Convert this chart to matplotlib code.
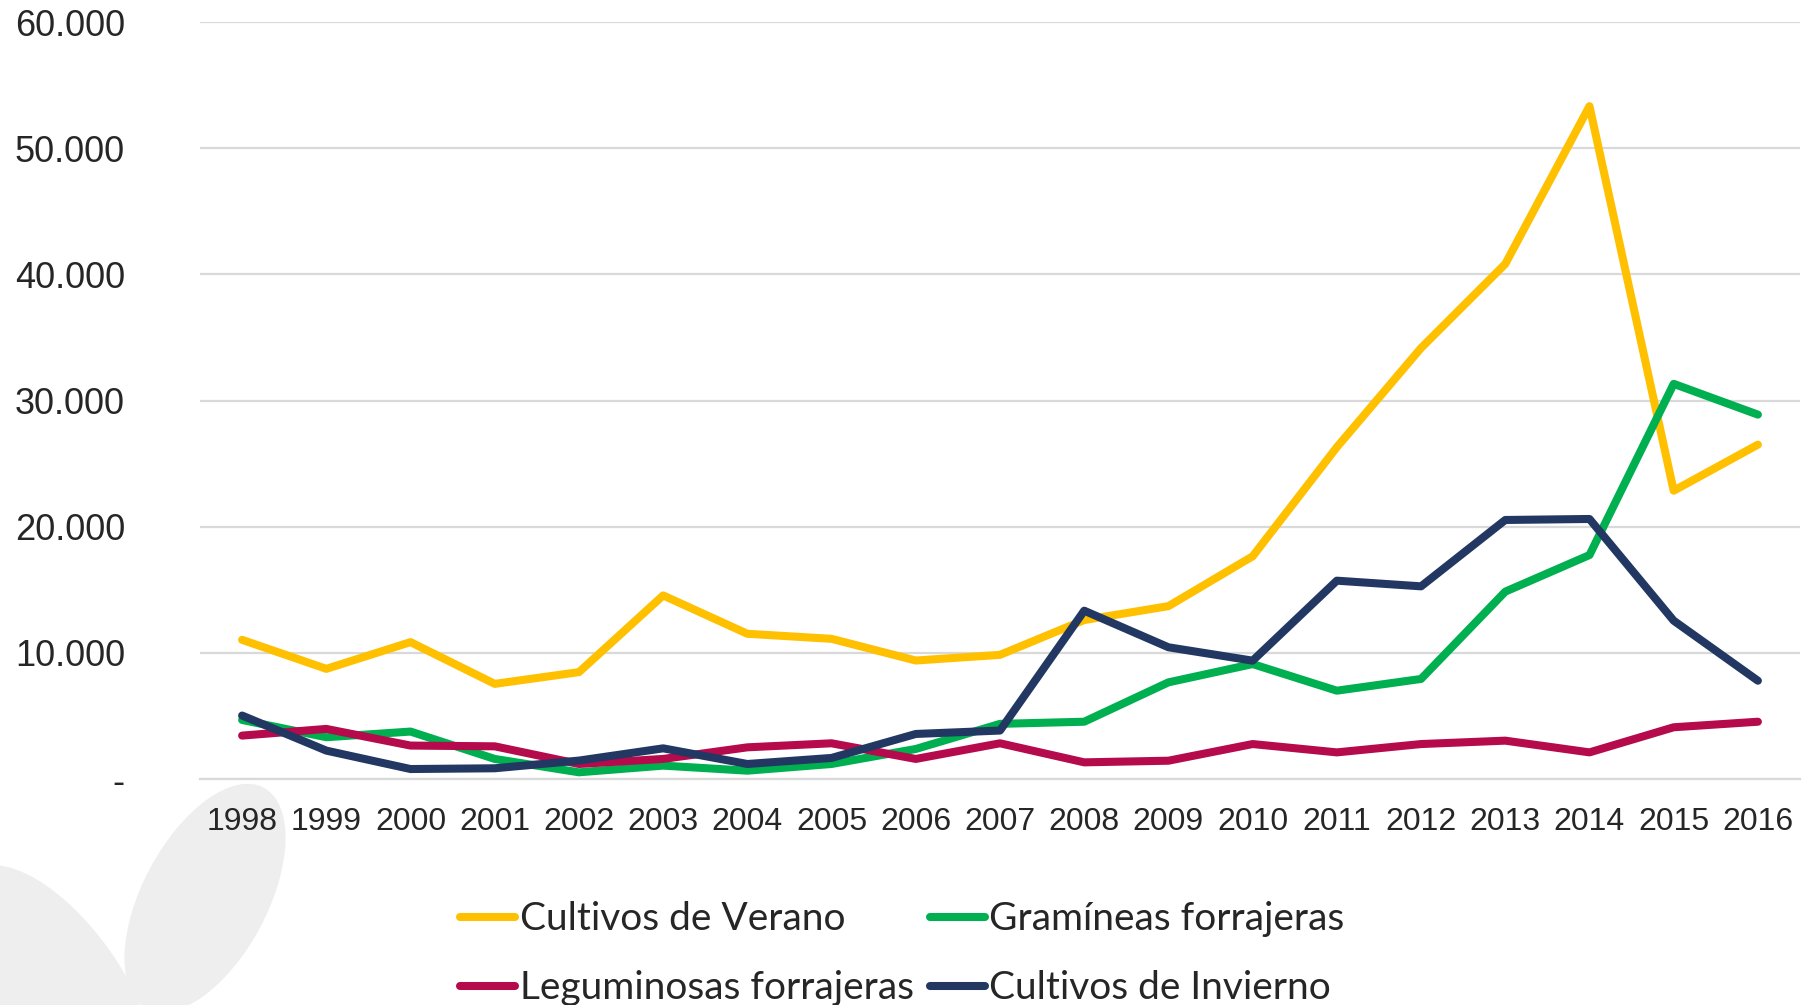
import numpy as np
import matplotlib.pyplot as plt
from matplotlib.patches import Ellipse
from matplotlib.ticker import FuncFormatter

years = [str(y) for y in range(1998, 2017)]

verano = [11030, 8730, 10850, 7540, 8470, 14550, 11510, 11110, 9390, 9840,
          12600, 13700, 17650, 26300, 34160, 40820, 53330, 22850, 26500]
gramineas = [4680, 3310, 3760, 1590, 530, 1060, 660, 1190, 2380, 4370,
             4540, 7660, 9110, 7000, 7930, 14850, 17750, 31320, 28880]
leguminosas = [3440, 3970, 2650, 2590, 1190, 1590, 2510, 2830, 1590, 2830,
               1320, 1450, 2770, 2110, 2770, 3040, 2110, 4100, 4540]
invierno = [5030, 2250, 790, 850, 1460, 2430, 1190, 1670, 3570, 3840,
            13340, 10440, 9380, 15720, 15270, 20530, 20610, 12550, 7790]

names = ['Cultivos de Verano', 'Gramíneas forrajeras',
         'Leguminosas forrajeras', 'Cultivos de Invierno']
colors = ['#FFC000', '#00B050', '#B50A4C', '#223863']


def fmt(v, pos):
    if v == 0:
        return '-'
    return '{:,.0f}'.format(v).replace(',', '.')


fig = plt.figure(figsize=(18.12, 10.05), dpi=100)

# faint leaf watermark, bottom left (pixel positions -> inches)
for cx, cy, w, h, ang in [(205, 898, 250, 125, 62), (55, 990, 290, 135, -55)]:
    fig.patches.append(Ellipse((cx / 100, (1005 - cy) / 100), w / 100, h / 100,
                               angle=ang, transform=fig.dpi_scale_trans,
                               facecolor='#eeeeee', edgecolor='none', zorder=-1))

ax = fig.add_axes([200 / 1812, 1 - 779 / 1005, 1600 / 1812, 757 / 1005])
ax.patch.set_alpha(0)

x = np.arange(len(years))
lines = []
for vals, name, c in zip([verano, gramineas, leguminosas, invierno], names, colors):
    ln, = ax.plot(x, vals, color=c, lw=5.8, label=name, solid_capstyle='round')
    lines.append(ln)

ax.set_xlim(-0.5, len(years) - 0.5)
ax.set_ylim(0, 60000)
ax.set_yticks(np.arange(0, 60001, 10000))
ax.yaxis.set_major_formatter(FuncFormatter(fmt))
ax.set_xticks(x)
ax.set_xticklabels(years)
ax.grid(axis='y', color='#d9d9d9', lw=1.6)
ax.set_axisbelow(True)
for s in ['top', 'right', 'left']:
    ax.spines[s].set_visible(False)
ax.spines['bottom'].set_color('#d9d9d9')
ax.spines['bottom'].set_linewidth(1.6)
ax.tick_params(axis='y', length=0, pad=54, labelsize=26, labelcolor='#262626')
ax.tick_params(axis='x', length=0, pad=20, labelsize=23, labelcolor='#262626')
for t in ax.get_xticklabels() + ax.get_yticklabels():
    t.set_fontfamily('Liberation Sans')

order = [0, 2, 1, 3]
leg = fig.legend([lines[i] for i in order], [names[i] for i in order],
                 loc='upper left', bbox_to_anchor=(441 / 1812, 1 - 882 / 1005),
                 ncol=2, frameon=False, handlelength=1.4, handletextpad=0.12,
                 columnspacing=0.43, labelspacing=0.84, borderpad=0,
                 prop={'family': 'Lato', 'size': 28})
for t in leg.get_texts():
    t.set_color('#262626')

fig.savefig('out.png', dpi=100)
